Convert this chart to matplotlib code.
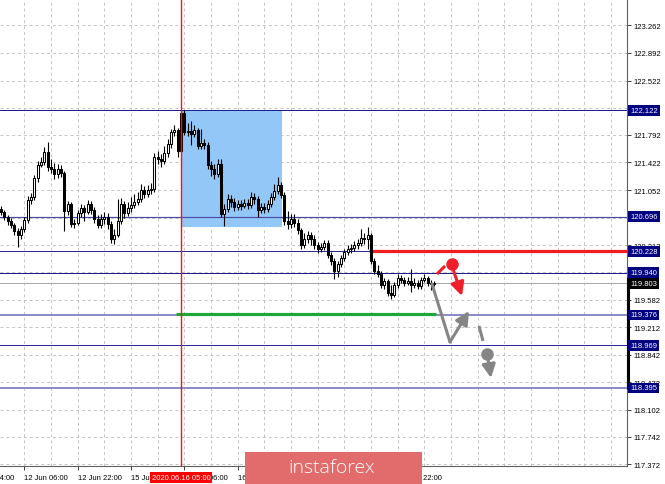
import matplotlib
matplotlib.use('Agg')
import matplotlib.pyplot as plt
from matplotlib.patches import Rectangle

W, H, DPI = 665, 485, 100

# ---------------- data (hourly candles, index = bar number) -----
opens = [120.798, 120.757, 120.690, 120.637, 120.583, 120.502, 120.449, 120.529, 120.650, 120.918,
         120.959, 121.214, 121.388, 121.428, 121.563, 121.361, 121.334, 121.267, 121.334, 121.281,
         120.771, 120.865, 120.596, 120.610, 120.744, 120.811, 120.757, 120.865, 120.784, 120.663,
         120.583, 120.663, 120.690, 120.596, 120.395, 120.449, 120.637, 120.865, 120.744, 120.811,
         120.851, 120.892, 120.932, 121.053, 120.999, 121.053, 121.066, 121.495, 121.469, 121.442,
         121.549, 121.670, 121.831, 121.858, 121.576, 122.086, 121.831, 121.844, 121.804, 121.858,
         121.643, 121.683, 121.656, 121.388, 121.334, 121.267, 121.401, 120.731, 120.798, 120.932,
         120.892, 120.824, 120.865, 120.838, 120.878, 120.851, 120.959, 120.932, 120.784, 120.824,
         120.798, 120.865, 120.959, 121.039, 121.120, 120.986, 120.637, 120.596, 120.663, 120.610,
         120.516, 120.314, 120.395, 120.449, 120.395, 120.314, 120.261, 120.288, 120.341, 120.181,
         120.100, 119.965, 120.060, 120.140, 120.221, 120.261, 120.274, 120.314, 120.341, 120.408,
         120.395, 120.449, 120.100, 119.965, 119.925, 119.777, 119.831, 119.670, 119.643, 119.777,
         119.871, 119.844, 119.804, 119.831, 119.777, 119.804, 119.764, 119.844, 119.871, 119.804,
         119.791]
highs = [120.838, 120.784, 120.717, 120.677, 120.610, 120.543, 120.569, 120.690, 120.972, 121.012,
         121.254, 121.442, 121.495, 121.630, 121.697, 121.469, 121.415, 121.401, 121.388, 121.307,
         120.905, 120.892, 120.663, 120.784, 120.865, 120.851, 120.918, 120.905, 120.824, 120.717,
         120.731, 120.757, 120.744, 120.637, 120.529, 120.932, 120.945, 120.905, 120.892, 120.959,
         120.999, 121.026, 121.133, 121.106, 121.120, 121.147, 121.549, 121.576, 121.536, 121.643,
         121.737, 121.871, 121.925, 121.885, 122.126, 122.126, 121.952, 121.979, 121.925, 121.885,
         121.871, 121.737, 121.697, 121.442, 121.401, 121.469, 121.469, 120.865, 120.999, 120.986,
         120.945, 120.918, 120.918, 120.932, 120.932, 121.026, 121.012, 120.972, 120.878, 120.878,
         120.918, 121.012, 121.133, 121.227, 121.160, 121.026, 120.771, 120.731, 120.731, 120.663,
         120.543, 120.475, 120.502, 120.489, 120.449, 120.355, 120.341, 120.381, 120.381, 120.221,
         120.140, 120.100, 120.181, 120.261, 120.314, 120.328, 120.368, 120.395, 120.529, 120.475,
         120.556, 120.475, 120.140, 120.046, 119.965, 119.871, 119.857, 119.777, 119.818, 119.925,
         119.911, 119.884, 119.884, 119.992, 119.871, 119.844, 119.884, 119.925, 119.898, 119.844,
         119.831]
lows = [120.717, 120.650, 120.583, 120.543, 120.449, 120.288, 120.395, 120.489, 120.610, 120.865,
        120.918, 121.160, 121.361, 121.388, 121.307, 121.281, 121.200, 121.214, 121.227, 120.502,
        120.717, 120.556, 120.543, 120.583, 120.690, 120.637, 120.731, 120.731, 120.610, 120.543,
        120.543, 120.596, 120.529, 120.341, 120.328, 120.422, 120.596, 120.677, 120.704, 120.757,
        120.811, 120.851, 120.892, 120.945, 120.959, 120.999, 121.026, 121.401, 121.361, 121.401,
        121.495, 121.616, 121.777, 121.495, 121.549, 121.791, 121.777, 121.656, 121.764, 121.603,
        121.603, 121.603, 121.334, 121.240, 121.200, 121.227, 120.690, 120.569, 120.757, 120.824,
        120.771, 120.784, 120.784, 120.811, 120.798, 120.811, 120.865, 120.690, 120.744, 120.744,
        120.757, 120.824, 120.918, 120.999, 120.945, 120.583, 120.529, 120.543, 120.556, 120.462,
        120.261, 120.274, 120.341, 120.314, 120.261, 120.207, 120.221, 120.247, 120.140, 120.046,
        119.857, 119.884, 120.019, 120.100, 120.181, 120.207, 120.234, 120.261, 120.301, 120.328,
        120.261, 120.060, 119.925, 119.884, 119.737, 119.724, 119.630, 119.590, 119.617, 119.737,
        119.804, 119.764, 119.777, 119.684, 119.737, 119.724, 119.724, 119.818, 119.764, 119.710,
        119.764]
closes = [120.757, 120.690, 120.637, 120.583, 120.502, 120.449, 120.529, 120.650, 120.918, 120.959,
          121.214, 121.388, 121.428, 121.563, 121.361, 121.334, 121.267, 121.334, 121.281, 120.771,
          120.865, 120.596, 120.610, 120.744, 120.811, 120.757, 120.865, 120.784, 120.663, 120.583,
          120.663, 120.690, 120.596, 120.395, 120.449, 120.637, 120.865, 120.744, 120.811, 120.851,
          120.892, 120.932, 121.053, 120.999, 121.053, 121.066, 121.495, 121.469, 121.442, 121.549,
          121.670, 121.831, 121.858, 121.576, 122.086, 121.831, 121.844, 121.804, 121.858, 121.643,
          121.683, 121.656, 121.388, 121.334, 121.267, 121.401, 120.731, 120.798, 120.932, 120.892,
          120.824, 120.865, 120.838, 120.878, 120.851, 120.959, 120.932, 120.784, 120.824, 120.798,
          120.865, 120.959, 121.039, 121.120, 120.986, 120.637, 120.596, 120.663, 120.610, 120.516,
          120.314, 120.395, 120.449, 120.395, 120.314, 120.261, 120.288, 120.341, 120.181, 120.100,
          119.965, 120.060, 120.140, 120.221, 120.261, 120.274, 120.314, 120.341, 120.408, 120.395,
          120.449, 120.100, 119.965, 119.925, 119.777, 119.831, 119.670, 119.643, 119.777, 119.871,
          119.844, 119.804, 119.831, 119.777, 119.804, 119.764, 119.844, 119.871, 119.804, 119.791,
          119.803]

x_tick_pos = [-9, 7, 23, 39, 55, 71, 87, 103, 119]
x_tick_labels = ['11 Jun 14:00', '12 Jun 06:00', '12 Jun 22:00', '15 Jun 14:00', '16 Jun 06:00',
                 '16 Jun 22:00', '17 Jun 14:00', '18 Jun 06:00', '18 Jun 22:00']
x_grid_pos = [-1, 7, 15, 23, 31, 39, 47, 55, 63, 71, 79, 87, 95, 103, 111, 119, 127, 135, 143,
              151, 159, 167, 175, 183]
y_ticks = [123.262, 122.892, 122.522, 122.152, 121.792, 121.422, 121.052, 120.682, 120.312,
           119.952, 119.582, 119.212, 118.842, 118.472, 118.102, 117.742, 117.372]
# labels fully covered by level boxes are left blank
y_tick_labels = ['123.262', '122.892', '122.522', '', '121.792', '121.422', '121.052', '',
                 '120.312', '', '119.582', '119.212', '118.842', '118.472', '118.102', '117.742',
                 '117.372']

# horizontal levels: value, colour, width(px)
level_values = [122.122, 120.696, 120.228, 119.940, 119.376, 118.969, 118.395]
level_colors = ['#1c1c8a', '#4a4aa4', '#2a2a96', '#1c1c8a', '#8c8cc8', '#2a2a96', '#8c8cc8']
level_widths = [1.0, 1.2, 1.0, 1.0, 2.0, 1.0, 2.0]
bid_price = 119.803

red_level = 120.228
red_level_start = 110.4
green_level = 119.385
green_range = (52.5, 130.5)
marker_bar = 54                      # 2020.06.16 05:00
marker_label = '2020.06.16 05:00'
box_x = (54, 84.3)
box_y = (120.556, 122.126)

# forecast sketch (bar index, price)
red_dash = ([130.8, 133.2], [119.925, 120.033])
red_dot = (135.3, 120.060)
red_arrow = ((135.6, 119.992), (138.3, 119.630))
gray_line = ([129.3, 134.7], [119.791, 119.013])
gray_arrow = ((134.7, 119.013), (140.4, 119.429))
gray_dash = ([143.4, 144.6], [119.228, 119.026])
gray_dot = (145.8, 118.852)
gray_arrow2 = ((146.1, 118.784), (147.0, 118.529))

XLIM = (-0.3, 187.8)
YLIM = (117.348, 123.603)

# ---------------- figure ----------------
FONT = 'Liberation Sans'
fig = plt.figure(figsize=(W / DPI, H / DPI), dpi=DPI)
fig.patch.set_facecolor('white')
ax = fig.add_axes([0, 1 - 467 / H, 627 / W, 466 / H])

# grid
for gx in x_grid_pos:
    ax.axvline(gx, color='#c4c4c4', lw=0.7, ls=(0, (3, 3)), zorder=0)
for gy in y_ticks:
    ax.axhline(gy, color='#c4c4c4', lw=0.7, ls=(0, (3, 3)), zorder=0)

# blue box
ax.add_patch(Rectangle((box_x[0], box_y[0]), box_x[1] - box_x[0], box_y[1] - box_y[0],
                       facecolor='#93c7f7', edgecolor='none', zorder=1))

# levels
for v, c, w in zip(level_values, level_colors, level_widths):
    ax.axhline(v, color=c, lw=w * 0.72, zorder=2)
ax.axhline(bid_price, color='#a8a8a8', lw=0.72, zorder=2)
ax.plot([red_level_start, XLIM[1]], [red_level, red_level], color='#f01e1e', lw=2.3, zorder=3,
        solid_capstyle='butt')
ax.plot(list(green_range), [green_level, green_level], color='#1fa83a', lw=2.3, zorder=3,
        solid_capstyle='butt')
ax.axvline(marker_bar, color='#ff1010', lw=1.0, zorder=6)

# candles
bw = 0.64
for i, (o, h, l, c) in enumerate(zip(opens, highs, lows, closes)):
    ax.plot([i, i], [l, h], color='black', lw=0.8, zorder=4, solid_capstyle='butt')
    bottom, top = min(o, c), max(o, c)
    fc = 'white' if c >= o else 'black'
    ax.add_patch(Rectangle((i - bw / 2, bottom), bw, max(top - bottom, 0.004),
                           facecolor=fc, edgecolor='black', lw=0.75, zorder=5))

# forecast sketch
red = '#f01e2a'
gray = '#858585'
aprops = dict(arrowstyle='-|>,head_length=0.8,head_width=0.4', lw=2.2, shrinkA=0, shrinkB=0)
ax.plot(*red_dash, color=red, lw=2.2, zorder=7, solid_capstyle='butt')
ax.plot([red_dot[0]], [red_dot[1]], 'o', color=red, ms=8, zorder=7)
ax.annotate('', xy=red_arrow[1], xytext=red_arrow[0], arrowprops=dict(aprops, color=red), zorder=7)
ax.plot(*gray_line, color=gray, lw=2.2, zorder=7, solid_capstyle='round')
ax.annotate('', xy=gray_arrow[1], xytext=gray_arrow[0], arrowprops=dict(aprops, color=gray), zorder=7)
ax.plot(*gray_dash, color=gray, lw=2.2, zorder=7, solid_capstyle='butt')
ax.plot([gray_dot[0]], [gray_dot[1]], 'o', color=gray, ms=8, zorder=7)
ax.annotate('', xy=gray_arrow2[1], xytext=gray_arrow2[0], arrowprops=dict(aprops, color=gray), zorder=7)

# axes styling
for s in ['top', 'left']:
    ax.spines[s].set_visible(False)
ax.spines['right'].set_color('#606060')
ax.spines['bottom'].set_color('#606060')
ax.yaxis.tick_right()
ax.set_yticks(y_ticks)
ax.set_yticklabels(y_tick_labels, fontsize=5.5, family=FONT)
ax.set_xticks(x_tick_pos[1:])
ax.set_xticklabels(x_tick_labels[1:], fontsize=5.5, family=FONT, ha='left')
ax.tick_params(axis='both', length=3, width=0.7, color='#404040', pad=2)
ax.tick_params(axis='x', pad=3)
ax.set_xlim(*XLIM)
ax.set_ylim(*YLIM)

xtr = ax.get_xaxis_transform()
# first (partly cut) time label
ax.text(x_tick_pos[0], -0.0165, x_tick_labels[0], transform=xtr, ha='left', va='top',
        fontsize=5.5, family=FONT, clip_on=False)

# right-side price labels
ytr = ax.get_yaxis_transform()
ax.plot([1.001, 1.001], [119.885, 118.382], transform=ytr, color='black', lw=2.2,
        clip_on=False, zorder=9, solid_capstyle='butt')
for v in level_values:
    ax.text(1.005, v, '%.3f' % v, transform=ytr, ha='left', va='center', fontsize=5.5,
            family=FONT, color='white', clip_on=False, zorder=10,
            bbox=dict(boxstyle='square,pad=0.25', fc='#000080', ec='none'))
ax.text(1.005, bid_price, '%.3f' % bid_price, transform=ytr, ha='left', va='center',
        fontsize=5.5, family=FONT, color='white', clip_on=False, zorder=10,
        bbox=dict(boxstyle='square,pad=0.25', fc='black', ec='none'))

# red time label
ax.text(marker_bar, -0.017, marker_label, transform=xtr, ha='center', va='top', fontsize=5.5,
        family=FONT, color='white', clip_on=False, zorder=10,
        bbox=dict(boxstyle='square,pad=0.25', fc='#ff0000', ec='none'))

# logo
fig.patches.append(Rectangle((245 / W, 0), 177 / W, 32 / H, transform=fig.transFigure,
                             facecolor='#e26b6b', edgecolor='none', zorder=20))
fig.text(332 / W, 1 - 468 / H, 'instaforex', ha='center', va='center', color='white',
         fontsize=14, family='Open Sans', fontweight='light', zorder=21)

fig.savefig('out.png', dpi=DPI)
